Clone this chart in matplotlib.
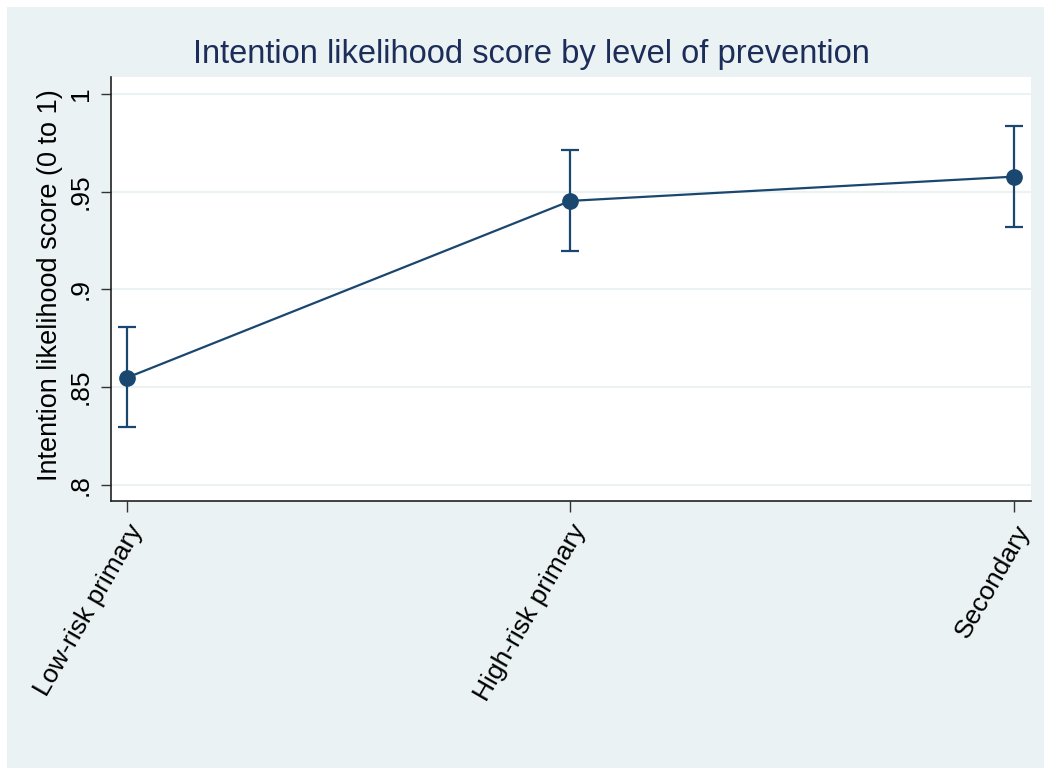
import numpy as np
import matplotlib.pyplot as plt
from matplotlib.patches import Rectangle

plt.rcParams['font.family'] = ['Liberation Sans', 'DejaVu Sans']

# margins plot: mean intention score with 95% CI
levels = ['Low-risk primary', 'High-risk primary', 'Secondary']
score = [0.8548, 0.9453, 0.9577]
ci_low = [0.8294, 0.9198, 0.9321]
ci_high = [0.8806, 0.9712, 0.9835]
yticks = [0.8, 0.85, 0.9, 0.95, 1.0]
ytick_labels = ['.8', '.85', '.9', '.95', '1']

navy = '#1a476f'
bg = '#eaf2f3'

W, H = 1046, 770
fig = plt.figure(figsize=(W / 100, H / 100), dpi=100, facecolor='white')
fig.add_artist(Rectangle((7 / W, 2 / H), (1044 - 7) / W, (768 - 7) / H,
                         transform=fig.transFigure, facecolor=bg,
                         edgecolor='none', zorder=-5))

ax = fig.add_axes([111 / W, (H - 501) / H, (1030.7 - 111) / W, (501 - 77) / H])
ax.set_zorder(1)
ax.set_facecolor('white')

x = np.arange(1, len(levels) + 1)
y = np.array(score)
yerr = np.vstack([y - np.array(ci_low), np.array(ci_high) - y])
ax.errorbar(x, y, yerr=yerr, color=navy, lw=1.6, marker='o', markersize=11,
            capsize=6.5, capthick=1.6, elinewidth=1.6, zorder=3)

ax.set_xlim(0.964, 3.038)
ax.set_ylim(0.7917, 1.0087)
ax.set_yticks(yticks)
ax.set_yticklabels(ytick_labels, rotation=90, va='center', fontsize=19)
ax.set_xticks(x)
ax.set_xticklabels(levels, rotation=60, ha='right', rotation_mode='anchor',
                   fontsize=19)
ax.tick_params(axis='y', length=7, width=1, pad=6, color='#333333')
ax.tick_params(axis='x', length=8, width=1, pad=6, color='#333333')
ax.grid(axis='y', color=bg, lw=1.5, zorder=0)
ax.set_axisbelow(True)

for s in ['top', 'right']:
    ax.spines[s].set_visible(False)
for s in ['left', 'bottom']:
    ax.spines[s].set_color('#222222')
    ax.spines[s].set_linewidth(1.2)

ax.set_ylabel('Intention likelihood score (0 to 1)', fontsize=19.5)
ax.yaxis.set_label_coords(-0.052, 0.51)
fig.text(531 / W, 1 - 54 / H, 'Intention likelihood score by level of prevention',
         ha='center', va='center', fontsize=23.5, color='#1c2d5a')

fig.savefig('out.png', dpi=100)
